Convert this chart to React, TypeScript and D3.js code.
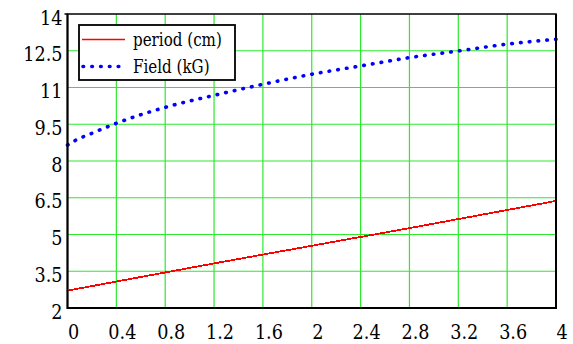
import React from "react";
import * as d3 from "d3";

const periodX = [0, 0.4, 0.8, 1.2, 1.6, 2.0, 2.4, 2.8, 3.2, 3.6, 4.0];
const periodY = [2.71, 3.08, 3.45, 3.82, 4.18, 4.54, 4.9, 5.26, 5.63, 6.0, 6.37];

const fieldX = [0, 0.06, 0.2, 0.4, 0.8, 1.2, 1.6, 2.0, 2.4, 2.8, 3.2, 3.6, 4.0];
const fieldY = [8.65, 8.83, 9.13, 9.54, 10.19, 10.68, 11.13, 11.54, 11.88, 12.22, 12.49, 12.77, 12.97];

const xTicks = [0, 0.4, 0.8, 1.2, 1.6, 2, 2.4, 2.8, 3.2, 3.6, 4];
const yTicks = [2, 3.5, 5, 6.5, 8, 9.5, 11, 12.5, 14];
const seriesNames = ["period (cm)", "Field (kG)"];

const W = 573, H = 344;
const L = 67.5, R = 556, T = 14, B = 308;
const FONT = "'DejaVu Serif', 'Liberation Serif', serif";
const SX = 0.84;

export default function App() {
  const x = d3.scaleLinear().domain([0, 4]).range([L, R]);
  const y = d3.scaleLinear().domain([2, 14]).range([B, T]);
  const line = d3.line<[number, number]>().x(d => x(d[0])).y(d => y(d[1]));
  const curve = d3.line<[number, number]>().x(d => x(d[0])).y(d => y(d[1])).curve(d3.curveMonotoneX);
  const pPath = line(periodX.map((v, i) => [v, periodY[i]]))!;
  const fPath = curve(fieldX.map((v, i) => [v, fieldY[i]]))!;
  const green = "#2ee82e";
  const ts = { fontFamily: FONT };
  return (
    <svg width={W} height={H} style={{ position: "absolute", left: 0, top: 0, background: "#fff" }}>
      <rect x={0} y={0} width={W} height={H} fill="#fff" />
      {xTicks.slice(1, -1).map(t => (
        <line key={"gx" + t} x1={x(t)} x2={x(t)} y1={T} y2={B} stroke={green} strokeWidth={1.2} />
      ))}
      {yTicks.slice(1, -1).map(t => (
        <line key={"gy" + t} x1={L} x2={R} y1={y(t)} y2={y(t)} stroke={green} strokeWidth={1.2} />
      ))}
      <path d={pPath} fill="none" stroke="#ff0000" strokeWidth={1.8} shapeRendering="crispEdges" />
      <path d={fPath} fill="none" stroke="#0000ff" strokeWidth={3.6} strokeLinecap="round" strokeDasharray="0.6 8.2" />
      <rect x={L} y={T} width={R - L} height={B - T} fill="none" stroke="#000" strokeWidth={1.5} />
      <line x1={L} x2={L} y1={T} y2={B + 1} stroke="#000" strokeWidth={2} />
      <line x1={L} x2={R + 1} y1={B} y2={B} stroke="#000" strokeWidth={2} />
      <line x1={R} x2={R} y1={T} y2={B} stroke="#000" strokeWidth={2} />
      <line x1={L - 3} x2={L} y1={T} y2={T} stroke="#000" strokeWidth={1.5} />
      {yTicks.map(t => (
        <text key={"yl" + t} transform={`translate(62.5,${y(t) + 10.6}) scale(${SX},1)`} textAnchor="end" style={ts} fontSize={21} fill="#000">
          {String(t)}
        </text>
      ))}
      {xTicks.map(t => (
        <text key={"xl" + t} transform={`translate(${x(t) + 6},339) scale(${SX},1)`} textAnchor="middle" style={ts} fontSize={21} fill="#000">
          {String(t)}
        </text>
      ))}
      <rect x={79} y={25} width={156} height={55} fill="#fff" stroke="#000" strokeWidth={1.8} />
      <line x1={82} x2={125} y1={39.5} y2={39.5} stroke="#ff0000" strokeWidth={1.6} />
      <line x1={83} x2={124} y1={66.5} y2={66.5} stroke="#0000ff" strokeWidth={3.6} strokeLinecap="round" strokeDasharray="0.6 8.2" />
      <text transform={`translate(133,45.5) scale(0.84,1)`} style={ts} fontSize={18} fill="#000">{seriesNames[0]}</text>
      <text transform={`translate(133,72.5) scale(0.84,1)`} style={ts} fontSize={18} fill="#000">{seriesNames[1]}</text>
    </svg>
  );
}
